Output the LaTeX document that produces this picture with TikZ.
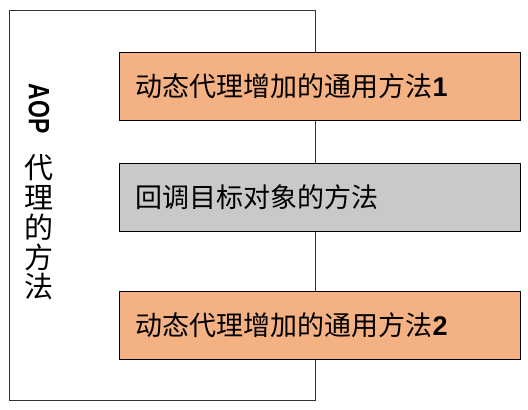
\documentclass[tikz,border=0pt]{standalone}
\usepackage{fontspec}
\setmainfont{Liberation Sans}
\newfontfamily\cjk{Noto Sans CJK SC}
\definecolor{boxorange}{HTML}{F4B183}
\definecolor{boxgray}{HTML}{C9C9C9}
\tikzset{
  methodbox/.style={draw=black, line width=1.3pt, minimum width=401pt, minimum height=68pt,
    anchor=north west, text width=369pt, inner xsep=16pt, align=left,
    font=\fontsize{27}{27}\selectfont},
  outerbox/.style={draw=black!80, line width=1pt, anchor=north west, minimum width=306pt, minimum height=390.5pt, inner sep=0pt}
}
\begin{document}
\begin{tikzpicture}[x=1pt,y=-1pt]
\useasboundingbox (0,0) rectangle (528,410);
\node[outerbox] (outer) at (9,9.5) {};
\node[methodbox, fill=boxorange] (m1) at (119,52) {{\cjk 动态代理增加的通用方法}{\bfseries 1}};
\node[methodbox, fill=boxgray] (m2) at (119,163) {{\cjk 回调目标对象的方法}};
\node[methodbox, fill=boxorange] (m3) at (119,291) {{\cjk 动态代理增加的通用方法}{\bfseries 2}};
\node[rotate=-90, inner sep=0pt] (aop) at (39,108.5) {\scalebox{0.82}[1.05]{\fontsize{28}{28}\selectfont\bfseries AOP}};
\node[align=center, inner sep=0pt, font=\fontsize{29}{29.75}\selectfont\cjk] (vt) at (39,227.5) {代\\理\\的\\方\\法};
\end{tikzpicture}
\end{document}
